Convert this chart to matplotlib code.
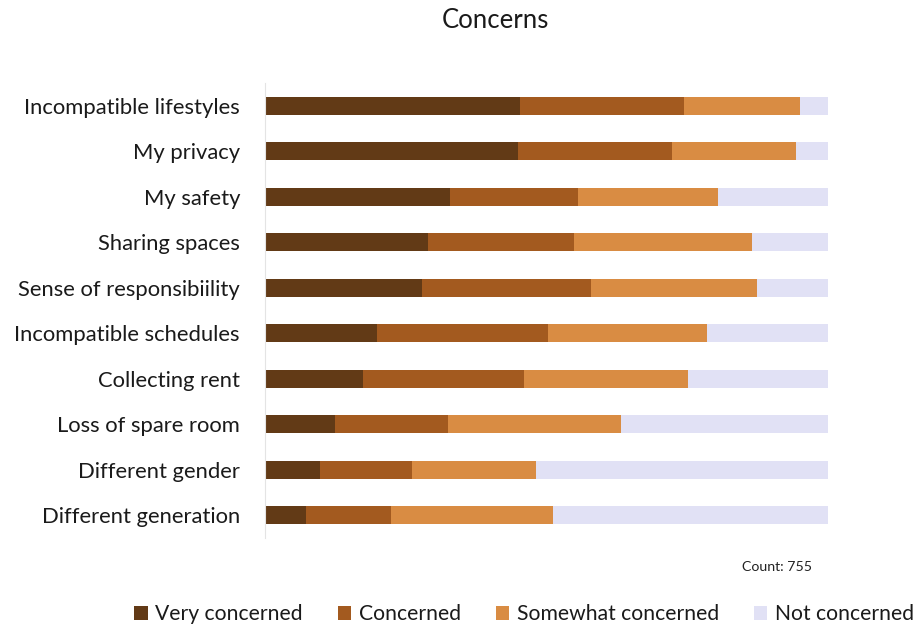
import matplotlib
matplotlib.use("Agg")
import matplotlib.pyplot as plt
import numpy as np

categories = ["Incompatible lifestyles", "My privacy", "My safety", "Sharing spaces",
              "Sense of responsibiility", "Incompatible schedules", "Collecting rent",
              "Loss of spare room", "Different gender", "Different generation"]
very_concerned = [45.3, 44.9, 32.9, 29.0, 27.9, 19.9, 17.4, 12.4, 9.8, 7.3]
concerned = [29.1, 27.4, 22.7, 25.9, 30.0, 30.4, 28.6, 20.1, 16.3, 15.1]
somewhat_concerned = [20.6, 22.0, 24.9, 31.6, 29.5, 28.2, 29.1, 30.7, 22.0, 28.8]
not_concerned = [5.0, 5.7, 19.5, 13.5, 12.6, 21.5, 24.9, 36.8, 51.9, 48.8]
series_names = ["Very concerned", "Concerned", "Somewhat concerned", "Not concerned"]
colors = ["#623a16", "#a35a1f", "#d98c43", "#e1e1f5"]

plt.rcParams['font.family'] = ['Lato', 'DejaVu Sans']

fig = plt.figure(figsize=(9.24, 6.31), dpi=100)
ax = fig.add_axes([265/924, 1-538/631, (828-265)/924, 455/631])

y = np.arange(len(categories))
left = np.zeros(len(categories))
handles = []
for name, vals, c in zip(series_names, [very_concerned, concerned, somewhat_concerned, not_concerned], colors):
    vals = np.array(vals)
    h = ax.barh(y, vals, left=left, height=0.4, color=c, label=name)
    handles.append(h)
    left += vals

ax.set_ylim(len(categories) - 0.5, -0.5)
ax.set_xlim(0, left.max())
ax.set_yticks(y)
ax.set_yticklabels(categories, fontsize=15.8, color="#1a1a1a")
ax.tick_params(axis='y', length=0, pad=18)
ax.set_xticks([])
for s in ["top", "right", "bottom"]:
    ax.spines[s].set_visible(False)
ax.spines["left"].set_color("#e4e4e4")
ax.spines["left"].set_linewidth(0.8)

fig.text(495/924, 1-21/631, "Concerns", ha="center", va="center", fontsize=18.5, color="#1a1a1a")
fig.text(777/924, 1-567/631, "Count: 755", ha="center", va="center", fontsize=10.2, color="#222222")

leg = fig.legend(handles=handles, labels=series_names, loc="center", bbox_to_anchor=(524/924, 1-614/631),
                 ncol=4, frameon=False, fontsize=15.2, handlelength=0.65, handleheight=0.65,
                 handletextpad=0.35, columnspacing=1.65, borderaxespad=0, borderpad=0)
for t in leg.get_texts():
    t.set_color("#1a1a1a")

fig.savefig("out.png", dpi=100)
